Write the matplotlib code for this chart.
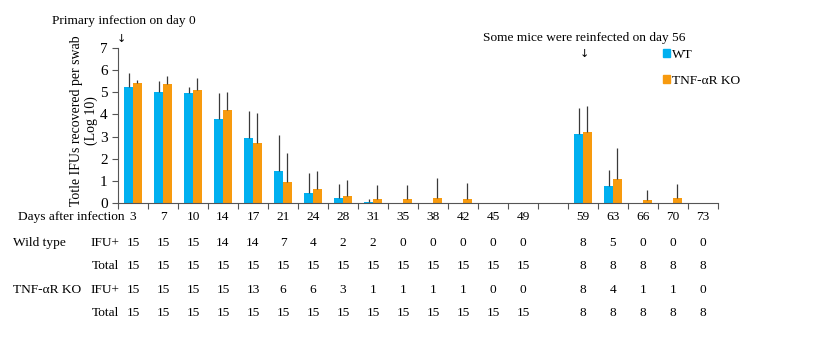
"""
Chlamydia shedding in WT vs TNF-aR KO mice, with the counts table underneath
"""

import matplotlib
matplotlib.use('Agg')

import numpy as np
import matplotlib.pyplot as plt
import matplotlib.patches as mpatches
import matplotlib.transforms as mtransforms

plt.rcParams['font.family'] = ['Liberation Serif', 'DejaVu Serif']

# Day labels (empty string = gap between primary and reinfection)
days = ['3', '7', '10', '14', '17', '21', '24', '28', '31', '35', '38', '42', '45', '49',
        '', '59', '63', '66', '70', '73']

wt_mean = [5.23, 5.03, 4.96, 3.78, 2.92, 1.42, 0.45, 0.23, 0.03, 0, 0, 0, 0, 0,
           0, 3.11, 0.76, 0, 0, 0]
wt_err = [0.64, 0.50, 0.30, 1.21, 1.24, 1.66, 0.88, 0.62, 0.14, 0, 0, 0, 0, 0,
          0, 1.17, 0.72, 0, 0, 0]
ko_mean = [5.44, 5.37, 5.11, 4.20, 2.69, 0.94, 0.63, 0.32, 0.17, 0.17, 0.22, 0.17, 0, 0,
           0, 3.19, 1.09, 0.12, 0.20, 0]
ko_err = [0.12, 0.37, 0.53, 0.83, 1.39, 1.30, 0.82, 0.71, 0.62, 0.61, 0.91, 0.72, 0, 0,
          0, 1.19, 1.38, 0.44, 0.63, 0]

wt_pos = ['15', '15', '15', '14', '14', '7', '4', '2', '2', '0', '0', '0', '0', '0',
          '', '8', '5', '0', '0', '0']
wt_total = ['15'] * 14 + [''] + ['8'] * 5
ko_pos = ['15', '15', '15', '15', '13', '6', '6', '3', '1', '1', '1', '1', '0', '0',
          '', '8', '4', '1', '1', '0']
ko_total = ['15'] * 14 + [''] + ['8'] * 5

blue = '#00B0F0'
orange = '#F79A0E'
fs = 9.6

fig = plt.figure(figsize=(8.23, 3.42), dpi=100)
ax = fig.add_axes([118 / 823, 139.3 / 342, 600 / 823, 154.4 / 342])

x = np.arange(len(days))
w = 0.285
ebar = dict(ecolor='#3a3a3a', elinewidth=0.9, capsize=0)
zeros = np.zeros(len(days))

ax.bar(x - w / 2, wt_mean, w, color=blue, yerr=[zeros, wt_err], error_kw=ebar)
ax.bar(x + w / 2, ko_mean, w, color=orange, yerr=[zeros, ko_err], error_kw=ebar)

ax.set_xlim(-0.5, len(days) - 0.5)
ax.set_ylim(0, 7)
ax.set_yticks(range(8))
ax.set_xticks(np.arange(len(days) + 1) - 0.5)
ax.set_xticklabels([])
ax.tick_params(axis='x', direction='out', length=4, color='#555555')
ax.tick_params(axis='y', direction='out', length=4, color='#555555', labelsize=11)
for side in ['top', 'right']:
    ax.spines[side].set_visible(False)
for side in ['left', 'bottom']:
    ax.spines[side].set_color('#555555')

ax.set_ylabel('Totle IFUs recovered per swab\n(Log 10)', fontsize=10, linespacing=1.15)
ax.yaxis.set_label_coords(-0.033, 0.532)

# Annotations at the top
fig.text(124 / 823, 1 - 20.7 / 342, 'Primary infection on day 0', ha='center',
         va='center', fontsize=fs)
fig.text(121 / 823, 1 - 39 / 342, '\u2193', ha='center', va='center', fontsize=8,
         family=['DejaVu Sans'])
fig.text(584 / 823, 1 - 37.7 / 342, 'Some mice were reinfected on day 56', ha='center',
         va='center', fontsize=fs)
fig.text(584 / 823, 1 - 54 / 342, '\u2193', ha='center', va='center', fontsize=8,
         family=['DejaVu Sans'])

handles = [mpatches.Patch(color=blue, label='WT'),
           mpatches.Patch(color=orange, label='TNF-\u03b1R KO')]
fig.legend(handles=handles, loc='upper left', bbox_to_anchor=(663 / 823, 1 - 49 / 342),
           frameon=False, fontsize=fs, handlelength=0.5, handleheight=0.5,
           handletextpad=0.15, labelspacing=1.05, borderpad=0, borderaxespad=0)

# Table underneath, x in data units, y in figure fraction
trans = mtransforms.blended_transform_factory(ax.transData, fig.transFigure)
rows = [(216.7, days), (242.7, wt_pos), (265.7, wt_total), (290, ko_pos), (312.7, ko_total)]
for ypix, vals in rows:
    for xi, v in zip(x, vals):
        ax.text(xi, 1 - ypix / 342, v, transform=trans, ha='center', va='center',
                fontsize=fs, clip_on=False)

fig.text(125 / 823, 1 - 216.7 / 342, 'Days after infection', ha='right', va='center',
         fontsize=fs)
fig.text(12.7 / 823, 1 - 242.7 / 342, 'Wild type', ha='left', va='center', fontsize=fs)
fig.text(12.7 / 823, 1 - 290 / 342, 'TNF-\u03b1R KO', ha='left', va='center', fontsize=fs)
for ypix, lab in [(242.7, 'IFU+'), (265.7, 'Total'), (290, 'IFU+'), (312.7, 'Total')]:
    fig.text(119 / 823, 1 - ypix / 342, lab, ha='right', va='center', fontsize=fs)

fig.savefig('out.png', dpi=100)
